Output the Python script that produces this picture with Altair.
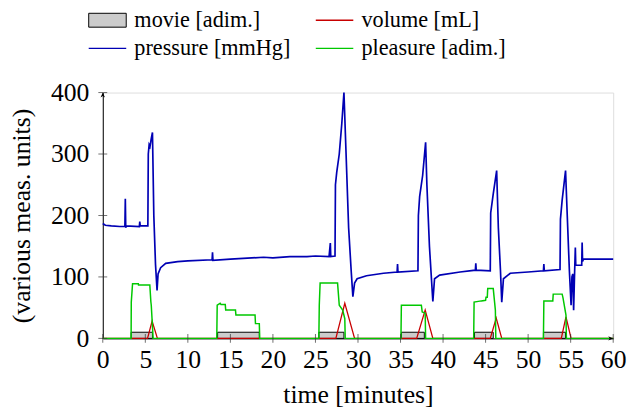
import altair as alt
import pandas as pd

# ---------------- data ----------------
press_t = [0, 0.3, 1.0, 2.0, 2.6, 2.65, 2.7, 2.75, 4.3, 4.35, 4.4, 5.3, 5.35, 5.45, 5.55, 5.7, 5.84,
           6.0, 6.2, 6.38, 6.5, 6.8, 7.4, 8.8, 10, 12.85, 12.9, 12.95, 15, 18.9, 20, 22, 24, 25,
           26.6, 26.75, 26.8, 27.3, 27.35, 27.5, 27.8, 28.1, 28.35, 28.6, 28.9, 29.2, 29.4, 29.6,
           29.9, 31, 33, 34.6, 34.65, 34.7, 37.05, 37.1, 37.25, 37.6, 37.95, 38.1, 38.4, 38.8,
           39.0, 39.6, 42, 43.8, 43.85, 43.9, 45.55, 45.6, 45.9, 46.3, 46.5, 46.75, 46.9, 47.1,
           47.9, 50, 51.8, 51.85, 51.9, 53.75, 53.8, 54.0, 54.4, 54.6, 54.85, 55.05, 55.15, 55.25,
           55.35, 55.45, 55.55, 55.6, 56.3, 56.35, 56.4, 56.5, 60]
press_v = [187, 184, 183, 182, 182, 227, 180, 183, 182, 190, 183, 183, 300, 315, 312, 325, 335,
           200, 120, 78, 105, 115, 122, 125, 126, 128, 140, 127, 129, 132, 131, 133, 133, 134,
           133, 155, 133, 134, 250, 270, 300, 350, 400, 300, 180, 110, 68, 90,
           97, 102, 106, 108, 121, 108, 110, 200, 231, 265, 319, 250, 150, 60,
           97, 103, 108, 111, 122, 111, 110, 204, 235, 273, 180, 110, 59, 97,
           106, 108, 110, 121, 110, 112, 194, 225, 273, 200, 110, 54, 100, 105,
           46, 100, 148, 119, 119, 156, 125, 129, 129]

pleas_t = [0, 3.33, 3.35, 3.5, 4.18, 4.2, 5.53, 5.65, 5.7, 5.92,
           13.4, 13.45, 13.8, 13.9, 14.4, 14.45, 15.6, 15.65, 17.9, 17.95, 18.4, 18.45,
           25.4, 25.45, 25.55, 27.6, 27.8, 28.2, 28.45, 28.5,
           35.05, 35.1, 37.45, 37.55, 37.9, 37.95,
           43.6, 43.65, 44.5, 45.0, 45.05, 45.2, 45.25, 45.9, 46.15, 46.2,
           51.8, 51.85, 52.9, 52.95, 54.0, 54.1, 54.45, 54.5, 60]
pleas_v = [0, 0, 59, 89, 89, 87, 87, 60, 54, 0,
           0, 54, 57, 55, 55, 46, 46, 38, 38, 24, 24, 0,
           0, 54, 90, 90, 54, 46, 32, 0,
           0, 54, 54, 43, 41, 0,
           0, 59, 61, 62, 67, 67, 81, 81, 46, 0,
           0, 61, 61, 72, 72, 66, 38, 0, 0]

vol_t = [0, 5.26, 5.8, 6.42, 27.4, 28.45, 29.6, 36.9, 37.9, 38.8, 45.55, 46.25, 46.9,
         53.9, 54.45, 55.05, 60]
vol_v = [0, 0, 28, 0, 0, 57, 0, 0, 46, 0, 0, 33, 0, 0, 35, 0, 0]

movie_start = [3.33, 13.5, 25.4, 35.1, 43.7, 51.8]
movie_end = [5.84, 18.4, 28.35, 37.8, 45.9, 54.4]
movie_level = [10, 10, 10, 10, 10, 10]

x_ticks = [0, 5, 10, 15, 20, 25, 30, 35, 40, 45, 50, 55, 60]
y_ticks = [0, 100, 200, 300, 400]

S_MOVIE = "movie [adim.]"
S_PRESS = "pressure [mmHg]"
S_VOL = "volume [mL]"
S_PLEAS = "pleasure [adim.]"

# ---------------- style ----------------
FONT = "Liberation Serif"
FS = 26
FS_LEG = 22.5
W, H = 517, 249
BLUE, RED, GREEN, GRAY = "#0000b4", "#c80000", "#00c800", "#cccccc"

press_df = pd.DataFrame({"t": press_t, "v": press_v, "series": S_PRESS})
pleas_df = pd.DataFrame({"t": pleas_t, "v": pleas_v, "series": S_PLEAS})
vol_df = pd.DataFrame({"t": vol_t, "v": vol_v, "series": S_VOL})
movie_df = pd.DataFrame({"s": movie_start, "e": movie_end, "lo": [0] * len(movie_level),
                         "hi": movie_level, "series": S_MOVIE})
xt_df = pd.DataFrame({"v": x_ticks})
yt_df = pd.DataFrame({"v": y_ticks})
one = pd.DataFrame({"a": [0]})

xs = alt.Scale(domain=[0, 60], nice=False, zero=False)
ys = alt.Scale(domain=[0, 400], nice=False)

x_axis = alt.Axis(values=x_ticks, title="time [minutes]", ticks=False, grid=False,
                  labelFont=FONT, labelFontSize=FS, labelColor="black", labelPadding=9,
                  labelFlush=False, labelOverlap=False,
                  titleFont=FONT, titleFontSize=FS, titleFontWeight="normal", titleColor="black",
                  titleY=57, titleBaseline="middle",
                  domainColor="black", domainWidth=1)
y_axis = alt.Axis(values=y_ticks, title="(various meas. units)", ticks=False, grid=False,
                  labelFont=FONT, labelFontSize=FS, labelColor="black", labelPadding=14,
                  labelFlush=False, labelOverlap=False,
                  titleFont=FONT, titleFontSize=FS, titleFontWeight="normal", titleColor="black",
                  titleX=-82, titleY=124.5, titleAngle=270, titleAlign="center",
                  titleBaseline="middle",
                  domainColor="black", domainWidth=1)

LINE_SYM = "M-2,0H2"
RECT_SYM = "M-2,-0.74H2V0.74H-2Z"


def legend(x, y, sym, **kw):
    return alt.Legend(title=None, orient="none", direction="vertical", padding=0,
                      legendX=x, legendY=y, symbolType=sym, symbolSize=361,
                      labelFont=FONT, labelFontSize=FS_LEG, labelColor="black",
                      labelOffset=16, labelLimit=400, **kw)


COL1, COL2, ROW1, ROW2 = -6.5, 223.5, -84.5, -56

movie = alt.Chart(movie_df).mark_rect(stroke="black", strokeWidth=1).encode(
    x=alt.X("s:Q", scale=xs, axis=x_axis),
    x2="e:Q",
    y=alt.Y("lo:Q", scale=ys, axis=y_axis),
    y2="hi:Q",
    color=alt.Color("series:N", scale=alt.Scale(domain=[S_MOVIE], range=[GRAY]),
                    legend=legend(COL1, ROW1, RECT_SYM, symbolStrokeColor="black",
                                  symbolStrokeWidth=1, symbolOpacity=1)),
)

volume = alt.Chart(vol_df).mark_line(strokeWidth=1.3).encode(
    x=alt.X("t:Q", scale=xs),
    y=alt.Y("v:Q", scale=ys),
    color=alt.Color("series:N", scale=alt.Scale(domain=[S_VOL], range=[RED]),
                    legend=legend(COL2, ROW1, LINE_SYM, symbolStrokeWidth=1.3)),
)

pressure = alt.Chart(press_df).mark_line(strokeWidth=1.7).encode(
    x=alt.X("t:Q", scale=xs),
    y=alt.Y("v:Q", scale=ys),
    color=alt.Color("series:N", scale=alt.Scale(domain=[S_PRESS], range=[BLUE]),
                    legend=legend(COL1, ROW2, LINE_SYM, symbolStrokeWidth=1.3)),
)

pleasure = alt.Chart(pleas_df).mark_line(strokeWidth=1.5).encode(
    x=alt.X("t:Q", scale=xs),
    y=alt.Y("v:Q", scale=ys),
    color=alt.Color("series:N", scale=alt.Scale(domain=[S_PLEAS], range=[GREEN]),
                    legend=legend(COL2, ROW2, LINE_SYM, symbolStrokeWidth=1.3)),
)

xticks = alt.Chart(xt_df).mark_tick(orient="vertical", size=9, thickness=1, color="#333333").encode(
    x=alt.X("v:Q", scale=xs), y=alt.value(H))
yticks = alt.Chart(yt_df).mark_tick(orient="horizontal", size=9, thickness=1, color="#333333").encode(
    y=alt.Y("v:Q", scale=ys), x=alt.value(0))

ARROW_R = "M0,0L-1,-0.45L-0.7,0L-1,0.45Z"
ARROW_U = "M0,0L-0.45,1L0,0.7L0.45,1Z"
arrow_x = alt.Chart(one).mark_point(shape=ARROW_R, filled=True, color="black", size=100,
                                    opacity=1).encode(x=alt.value(W), y=alt.value(H))
arrow_y = alt.Chart(one).mark_point(shape=ARROW_U, filled=True, color="black", size=100,
                                    opacity=1).encode(x=alt.value(0), y=alt.value(0))

chart = alt.layer(movie, volume, pressure, pleasure, xticks, yticks, arrow_x, arrow_y).resolve_scale(
    color="independent"
).resolve_legend(color="independent").properties(
    width=W, height=H,
    autosize=alt.AutoSizeParams(type="none"),
    padding={"left": 96, "top": 83, "right": 15, "bottom": 78},
).configure_view(stroke=None).configure(background="white")

chart.save("out.html", embed_options={"renderer": "svg", "actions": False})
